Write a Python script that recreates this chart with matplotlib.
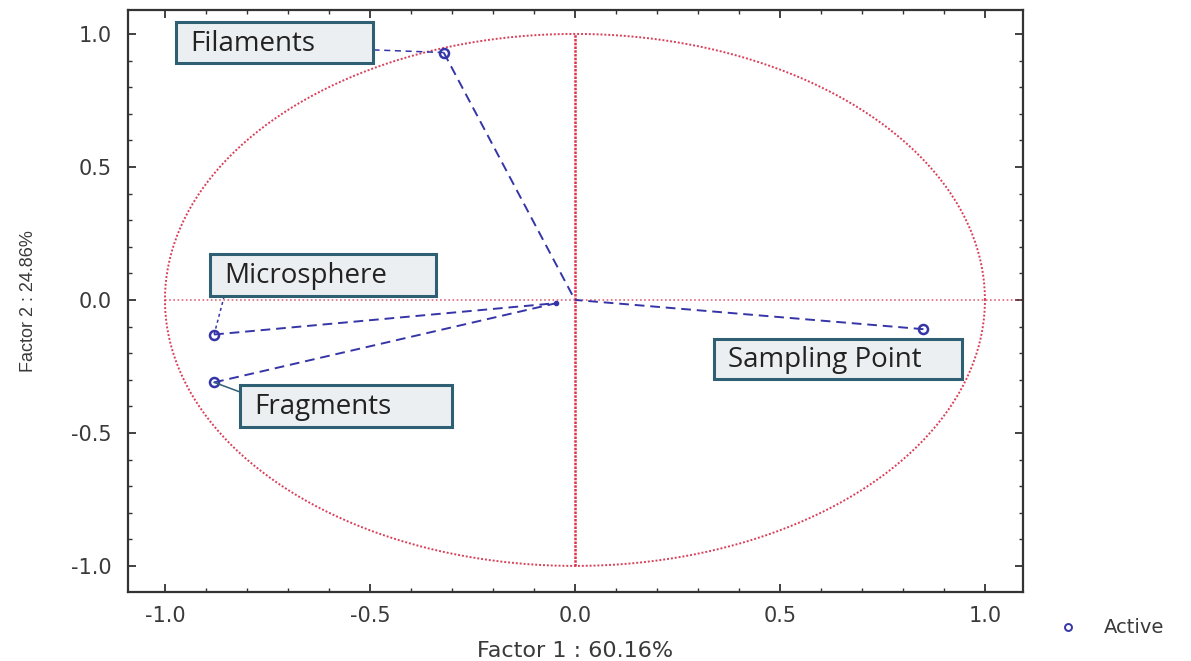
import matplotlib.pyplot as plt
import numpy as np
from matplotlib import font_manager

# loadings
names = ['Filaments', 'Microsphere', 'Fragments', 'Sampling Point']
f1 = [-0.32, -0.88, -0.88, 0.85]
f2 = [0.93, -0.13, -0.31, -0.11]
# where each dashed vector ends near the origin
end_x = [0.0, -0.045, -0.045, 0.0]
end_y = [0.0, -0.012, -0.012, 0.0]
# label boxes (data coords, lower-left, width, height) and leader line ends
box_x = [-0.973, -0.89, -0.817, 0.339]
box_y = [0.89, 0.015, -0.477, -0.297]
box_w = [0.48, 0.551, 0.517, 0.605]
box_h = [0.155, 0.158, 0.158, 0.15]
lead_x = [-0.493, -0.856, -0.817, 0.85]
lead_y = [0.94, 0.011, -0.346, -0.11]

ticks = [-1.0, -0.5, 0.0, 0.5, 1.0]

narrow = 'Liberation Sans Narrow'
names_avail = {f.name for f in font_manager.fontManager.ttflist}
if narrow not in names_avail:
    narrow = 'Liberation Sans'
wide = 'DejaVu Sans'
txt = '#3a3a3a'

fig = plt.figure(figsize=(11.91, 6.61), dpi=100)
ax = fig.add_axes([0.1075, 0.1044, 0.7515, 0.8805])

red = '#d8405a'
blue = '#3535a8'

t = np.linspace(0, 2 * np.pi, 400)
ax.plot(np.cos(t), np.sin(t), color=red, lw=1.4, ls=(0, (1, 1)))
ax.plot([-1, 1.1], [0, 0], color=red, lw=1.2, ls=(0, (1, 1.5)), alpha=0.8)
ax.plot([0, 0], [-1, 1], color='#e0304a', lw=1.8, ls=(0, (1, 0.5)))

for i in range(len(names)):
    ax.plot([f1[i], end_x[i]], [f2[i], end_y[i]], color=blue, lw=1.4, ls=(0, (5, 3)))
ax.plot([-0.045], [-0.012], 'o', color=blue, ms=3)
ax.plot(f1, f2, 'o', mfc='none', mec=blue, mew=1.8, ms=6.5)

# leader lines from points to boxes
ax.plot([f1[0], lead_x[0]], [f2[0], lead_y[0]], color=blue, lw=1.1, ls=(0, (4, 3)))
ax.plot([f1[1], lead_x[1]], [f2[1], lead_y[1]], color=blue, lw=1.1, ls=(0, (2, 2)))
ax.plot([f1[2], lead_x[2]], [f2[2], lead_y[2]], color='#2f5f73', lw=1.1)

for i in range(len(names)):
    ax.text(box_x[i] + 0.035, box_y[i] + box_h[i] / 2 - 0.005, names[i], fontsize=20,
            family='Open Sans', color='#222222', va='center', ha='left', zorder=6)
    ax.add_patch(plt.Rectangle((box_x[i], box_y[i]), box_w[i], box_h[i],
                               facecolor='#eceff1', edgecolor='#2f5f73', lw=2.2, zorder=5))

ax.set_xlim(-1.09, 1.093)
ax.set_ylim(-1.098, 1.09)
ax.set_xticks(ticks)
ax.set_yticks(ticks)
ax.set_xticks(np.arange(-1.0, 1.05, 0.1), minor=True)
ax.set_yticks(np.arange(-1.0, 1.05, 0.1), minor=True)
ax.set_xticklabels(['%.1f' % v for v in ticks], family=wide, fontsize=15, color=txt)
ax.set_yticklabels(['%.1f' % v for v in ticks], family=wide, fontsize=15, color=txt)
ax.tick_params(which='both', direction='in', top=True, right=True, color='#333333')
ax.tick_params(which='major', length=6, width=1.3)
ax.tick_params(axis='x', which='major', pad=10)
ax.tick_params(axis='y', which='major', pad=12)
ax.tick_params(which='minor', length=3, width=1.0)
for s in ax.spines.values():
    s.set_linewidth(1.6)
    s.set_color('#333333')

ax.set_xlabel('Factor 1 : 60.16%', family=wide, fontsize=16, color=txt)
ax.set_ylabel('Factor 2 : 24.86%', family=narrow, fontsize=13, color=txt)
ax.xaxis.set_label_coords(0.5, -0.085)
ax.yaxis.set_label_coords(-0.102, 0.5)

fig.lines.append(plt.Line2D([0.8967], [0.0514], marker='o', mfc='none', mec=blue,
                            mew=1.4, ms=5, transform=fig.transFigure))
fig.text(0.927, 0.0514, 'Active', family=wide, fontsize=14, color=txt, va='center')

fig.savefig('out.png', dpi=100)
